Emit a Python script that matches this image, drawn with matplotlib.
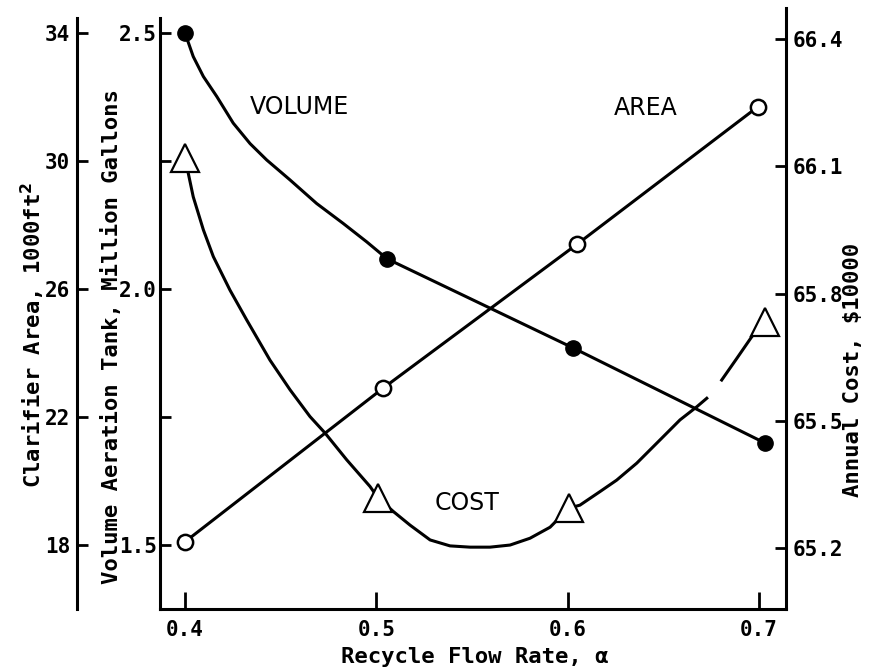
import matplotlib
matplotlib.use("Agg")
import matplotlib.pyplot as plt

nan = float("nan")

# ---------------- data ----------------
alpha_ticks = [0.4, 0.5, 0.6, 0.7]
alpha_labels = ["0.4", "0.5", "0.6", "0.7"]

# Volume of aeration tank (million gallons), filled circles
volume_x = [0.4, 0.5056, 0.6028, 0.7032]
volume_y = [2.50, 2.059, 1.885, 1.699]
# points
volume_curve_x = [0.4, 0.4043, 0.4096, 0.4166, 0.4252, 0.4340, 0.4427, 0.4549,
                  0.4688, 0.4827, 0.4950, 0.5056, 0.6028, 0.7032]
volume_curve_y = [2.50, 2.454, 2.415, 2.376, 2.324, 2.284, 2.252, 2.213,
                  2.167, 2.128, 2.092, 2.059, 1.885, 1.699]

# Clarifier area (1000 ft^2), open circles
area_x = [0.4, 0.5035, 0.6049, 0.6995]
area_y = [18.1, 22.9, 27.4, 31.7]

# Annual cost ($10000), open triangles
cost_x = [0.4, 0.5009, 0.6007, 0.7032]
cost_y = [66.12, 65.318, 65.294, 65.733]
# points (nan = break in the drawn line)
cost_curve_x = [0.4, 0.4043, 0.4096, 0.4148, 0.4235, 0.4322, 0.4444, 0.4549,
                0.4653, 0.4732, 0.4845, 0.4967, 0.5009, 0.5089, 0.5176, 0.5281,
                0.5385, 0.5490, 0.5594, 0.5699, 0.5803, 0.5908, 0.6007, 0.6064,
                0.6169, 0.6256, 0.6361, 0.6483, 0.6587, 0.6675, 0.6727, nan,
                0.6805, 0.6884, 0.6962, 0.7032]
cost_curve_y = [66.12, 66.028, 65.950, 65.887, 65.808, 65.738, 65.643, 65.573,
                65.510, 65.471, 65.408, 65.345, 65.318, 65.286, 65.254, 65.219,
                65.205, 65.202, 65.202, 65.207, 65.223, 65.249, 65.294, 65.301,
                65.333, 65.360, 65.400, 65.455, 65.502, 65.533, 65.553, nan,
                65.596, 65.647, 65.698, 65.733]

volume_ticks = [1.5, 1.75, 2.0, 2.25, 2.5]
volume_labels = ["1.5", "", "2.0", "", "2.5"]
area_ticks = [18, 22, 26, 30, 34]
cost_ticks = [65.2, 65.5, 65.8, 66.1, 66.4]

# ---------------- layout ----------------
W, H = 875, 670
fig = plt.figure(figsize=(W / 100, H / 100), dpi=100)

def frac(x0, y_top, x1, y_bot):
    return [x0 / W, 1 - y_bot / H, (x1 - x0) / W, (y_bot - y_top) / H]

tick_font = dict(family="DejaVu Sans Mono", weight="bold", size=15)
lab_font = dict(family="DejaVu Sans Mono", weight="bold", size=16)
word_font = dict(family="DejaVu Sans", size=17)
LW = 2.2
XLIM = (0.38693, 0.71411)

ax = fig.add_axes(frac(160, 18, 786, 609))
ax.set_xlim(*XLIM)
ax.set_ylim(1.375, 2.5293)
for s in ["top", "right"]:
    ax.spines[s].set_visible(False)
for s in ["left", "bottom"]:
    ax.spines[s].set_linewidth(LW)
ax.set_yticks(volume_ticks)
ax.set_yticklabels(volume_labels, fontdict=tick_font)
ax.set_xticks(alpha_ticks)
ax.set_xticklabels(alpha_labels, fontdict=tick_font)
ax.tick_params(axis="y", direction="in", length=8, width=2, pad=2)
ax.tick_params(axis="x", direction="in", length=12, width=2, pad=8)
ax.patch.set_visible(False)

# clarifier area axis (outer left)
ax2 = ax.twinx()
ax2.set_ylim(16.0, 34.47)
ax2.yaxis.set_ticks_position("left")
ax2.yaxis.set_label_position("left")
for s in ["top", "right", "bottom"]:
    ax2.spines[s].set_visible(False)
ax2.spines["left"].set_visible(True)
ax2.spines["left"].set_position(("outward", 59.8))
ax2.spines["left"].set_linewidth(LW)
ax2.set_yticks(area_ticks)
ax2.set_yticklabels([str(t) for t in area_ticks], fontdict=tick_font)
ax2.tick_params(axis="y", direction="in", length=8, width=2, pad=5)
ax2.patch.set_visible(False)

# annual cost axis (right)
ax3 = fig.add_axes(frac(160, 8, 786, 609))
ax3.set_xlim(*XLIM)
ax3.set_ylim(65.0562, 66.4731)
ax3.patch.set_visible(False)
for s in ["top", "left", "bottom"]:
    ax3.spines[s].set_visible(False)
ax3.spines["right"].set_linewidth(LW)
ax3.set_xticks([])
ax3.yaxis.set_ticks_position("right")
ax3.set_yticks(cost_ticks)
ax3.set_yticklabels([f"{t:.1f}" for t in cost_ticks], fontdict=tick_font)
ax3.tick_params(axis="y", direction="in", length=8, width=2, pad=5)

# ---------------- series ----------------
ax.plot(volume_curve_x, volume_curve_y, color="black", lw=LW, zorder=2,
        clip_on=False, solid_joinstyle="round")
ax.plot(volume_x, volume_y, "o", color="black", ms=11, zorder=4, clip_on=False)

ax2.plot(area_x, area_y, color="black", lw=LW, zorder=2, clip_on=False)
ax2.plot(area_x, area_y, "o", mfc="white", mec="black", mew=1.8, ms=11, zorder=4,
         clip_on=False)

ax3.plot(cost_curve_x, cost_curve_y, color="black", lw=LW, zorder=2,
         clip_on=False, solid_joinstyle="round")
ax3.plot(cost_x, cost_y, "^", mfc="white", mec="black", mew=1.6, ms=20, zorder=4,
         clip_on=False)

# ---------------- texts ----------------
fig.text(299 / W, 1 - 107 / H, "VOLUME", ha="center", va="center", **word_font)
fig.text(646 / W, 1 - 108 / H, "AREA", ha="center", va="center", **word_font)
fig.text(467 / W, 1 - 503 / H, "COST", ha="center", va="center", **word_font)

fig.text(33 / W, 1 - 335 / H, "Clarifier Area, 1000ft$^{\\mathbf{2}}$", rotation=90,
         ha="center", va="center", **lab_font)
fig.text(112 / W, 1 - 337 / H, "Volume Aeration Tank, Million Gallons", rotation=90,
         ha="center", va="center", **lab_font)
fig.text(853 / W, 1 - 370 / H, "Annual Cost, $10000", rotation=90,
         ha="center", va="center", **lab_font)
fig.text(475 / W, 1 - 657 / H, "Recycle Flow Rate, α", ha="center", va="center",
         **lab_font)

fig.savefig("out.png", dpi=100)
